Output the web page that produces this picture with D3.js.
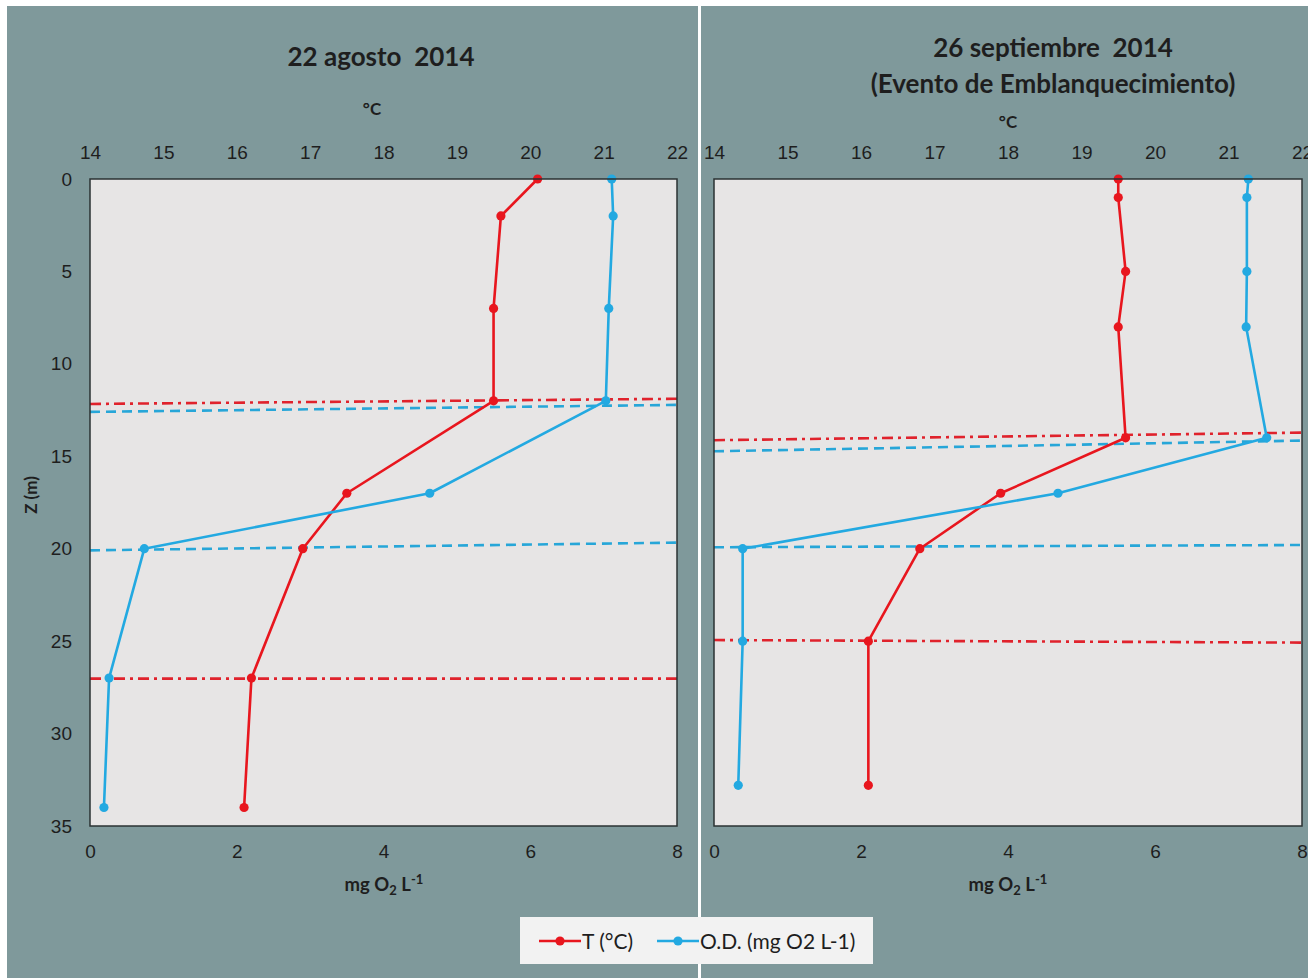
<!DOCTYPE html>
<html>
<head>
<meta charset="utf-8">
<script src="https://cdn.jsdelivr.net/npm/d3@7"></script>
<style>
  body { margin: 0; background: #fff; }
  svg { display: block; font-family: Lato, 'Open Sans', sans-serif; }
</style>
</head>
<body>
<div id="app"></div>
<script>
// agosto profile
const depthAgo = [0, 2, 7, 12, 17, 20, 27, 34];
const tempAgo = [20.1, 19.6, 19.5, 19.5, 17.5, 16.9, 16.2, 16.1];
const odAgo = [7.11, 7.13, 7.07, 7.03, 4.63, 0.74, 0.26, 0.19];

// septiembre profile
const depthSep = [0, 1, 5, 8, 14, 17, 20, 25, 32.8];
const tempSep = [19.5, 19.5, 19.6, 19.5, 19.6, 17.9, 16.8, 16.1, 16.1];
const odSep = [7.27, 7.25, 7.25, 7.24, 7.52, 4.68, 0.39, 0.39, 0.33];

// thermocline / oxycline marker lines: depth at left and right edge
const refSeriesAgo = ['T', 'OD', 'OD', 'T'];
const refLeftAgo = [12.17, 12.6, 20.09, 27.03];
const refRightAgo = [11.89, 12.22, 19.67, 27.03];

const refSeriesSep = ['T', 'OD', 'OD', 'T'];
const refLeftSep = [14.13, 14.73, 19.92, 24.94];
const refRightSep = [13.72, 14.15, 19.8, 25.08];

const tempTicks = [14, 15, 16, 17, 18, 19, 20, 21, 22];
const odTicks = [0, 2, 4, 6, 8];
const depthTicks = [0, 5, 10, 15, 20, 25, 30, 35];

const W = 1308;
const H = 978;
const bg = '#7f999b';
const red = '#e8161e';
const blue = '#23a9e1';
const ink = '#1e1e1e';

const svg = d3.select('#app').append('svg')
  .attr('width', W)
  .attr('height', H);

svg.append('rect').attr('width', W).attr('height', H).attr('fill', bg);
// white frame bits
svg.append('rect').attr('x', 0).attr('y', 0).attr('width', W).attr('height', 6).attr('fill', '#fff');
svg.append('rect').attr('x', 0).attr('y', 0).attr('width', 7).attr('height', H).attr('fill', '#fff');
svg.append('rect').attr('x', 698).attr('y', 0).attr('width', 3).attr('height', H).attr('fill', '#fff');

const plotTop = 179;
const plotBottom = 826;

const yScale = d3.scaleLinear().domain([0, 35]).range([plotTop, plotBottom]);

const buildPanel = (opts) => {
  const { x0, x1, depth, temp, od, refSeries, refLeft, refRight, showY } = opts;
  const tx = d3.scaleLinear().domain([14, 22]).range([x0, x1]);
  const ox = d3.scaleLinear().domain([0, 8]).range([x0, x1]);

  const g = svg.append('g');

  g.append('rect')
    .attr('x', x0).attr('y', plotTop)
    .attr('width', x1 - x0).attr('height', plotBottom - plotTop)
    .attr('fill', '#e7e5e5');

  const styleAxis = sel => {
    sel.select('.domain').remove();
    sel.selectAll('text')
      .attr('fill', ink)
      .style('font-size', '19px');
  };

  g.append('g')
    .attr('transform', `translate(0,${plotTop})`)
    .call(d3.axisTop(tx).tickValues(tempTicks).tickSize(0).tickPadding(20))
    .call(styleAxis);

  g.append('g')
    .attr('transform', `translate(0,${plotBottom})`)
    .call(d3.axisBottom(ox).tickValues(odTicks).tickSize(0).tickPadding(19))
    .call(styleAxis);

  if (showY) {
    g.append('g')
      .attr('transform', `translate(${x0},0)`)
      .call(d3.axisLeft(yScale).tickValues(depthTicks).tickSize(0).tickPadding(18))
      .call(styleAxis);
  }

  // marker lines
  const refIdx = d3.range(refSeries.length);
  g.append('g').selectAll('line')
    .data(refIdx)
    .enter().append('line')
    .attr('x1', ox(0))
    .attr('x2', ox(8))
    .attr('y1', i => yScale(refLeft[i]))
    .attr('y2', i => yScale(refRight[i]))
    .attr('stroke', i => refSeries[i] === 'T' ? '#e0222c' : '#27a6d8')
    .attr('stroke-width', 2.6)
    .attr('stroke-dasharray', i => refSeries[i] === 'T' ? '11,5,3,5' : '10,6');

  const series = [
    { vals: temp, x: tx, color: red },
    { vals: od, x: ox, color: blue }
  ];

  series.forEach(s => {
    const pts = depth.map((d, i) => [s.x(s.vals[i]), yScale(d)]);
    g.append('path')
      .attr('d', d3.line()(pts))
      .attr('fill', 'none')
      .attr('stroke', s.color)
      .attr('stroke-width', 2.6)
      .attr('stroke-linejoin', 'round');
    g.append('g').selectAll('circle')
      .data(pts)
      .enter().append('circle')
      .attr('cx', p => p[0])
      .attr('cy', p => p[1])
      .attr('r', 4.6)
      .attr('fill', s.color);
  });

  g.append('rect')
    .attr('x', x0).attr('y', plotTop)
    .attr('width', x1 - x0).attr('height', plotBottom - plotTop)
    .attr('fill', 'none')
    .attr('stroke', '#2b3233')
    .attr('stroke-width', 1.5);

  return { tx, ox };
};

buildPanel({
  x0: 90, x1: 677,
  depth: depthAgo, temp: tempAgo, od: odAgo,
  refSeries: refSeriesAgo, refLeft: refLeftAgo, refRight: refRightAgo,
  showY: true
});

buildPanel({
  x0: 714, x1: 1302,
  depth: depthSep, temp: tempSep, od: odSep,
  refSeries: refSeriesSep, refLeft: refLeftSep, refRight: refRightSep,
  showY: false
});

// titles and axis labels
const label = (x, y, txt, size, weight) => svg.append('text')
  .attr('x', x).attr('y', y)
  .attr('text-anchor', 'middle')
  .attr('fill', ink)
  .style('font-size', size + 'px')
  .style('font-weight', weight || 'bold')
  .style('white-space', 'pre')
  .text(txt);

label(381, 66, '22 agosto  2014', 26);
label(1053, 57, '26 septiembre  2014', 26);
label(1053, 93, '(Evento de Emblanquecimiento)', 26);

label(372, 115, '°C', 17);
label(1008, 128, '°C', 17);

const mgLabel = (x) => {
  const t = svg.append('text')
    .attr('x', x).attr('y', 891)
    .attr('text-anchor', 'middle')
    .attr('fill', ink)
    .style('font-size', '18.5px')
    .style('font-weight', 'bold');
  t.append('tspan').text('mg O');
  t.append('tspan').attr('dy', 4).style('font-size', '13px').text('2');
  t.append('tspan').attr('dy', -4).text(' L');
  t.append('tspan').attr('dy', -7).style('font-size', '13px').text('-1');
};
mgLabel(384);
mgLabel(1008);

svg.append('text')
  .attr('transform', 'translate(37,495) rotate(-90)')
  .attr('text-anchor', 'middle')
  .attr('fill', ink)
  .style('font-size', '17px')
  .style('font-weight', 'bold')
  .text('Z (m)');

// legend
const legend = svg.append('g');
legend.append('rect')
  .attr('x', 520).attr('y', 917)
  .attr('width', 353).attr('height', 47)
  .attr('fill', '#f2f2f2');

const legendItems = [
  { name: 'T (°C)', color: red, x: 539 },
  { name: 'O.D. (mg O2 L-1)', color: blue, x: 657 }
];

legendItems.forEach(it => {
  legend.append('line')
    .attr('x1', it.x).attr('x2', it.x + 42)
    .attr('y1', 941).attr('y2', 941)
    .attr('stroke', it.color)
    .attr('stroke-width', 2.6);
  legend.append('circle')
    .attr('cx', it.x + 21).attr('cy', 941)
    .attr('r', 4.6)
    .attr('fill', it.color);
  legend.append('text')
    .attr('x', it.x + 43).attr('y', 948.5)
    .attr('fill', ink)
    .style('font-size', '21px')
    .text(it.name);
});
</script>
</body>
</html>
